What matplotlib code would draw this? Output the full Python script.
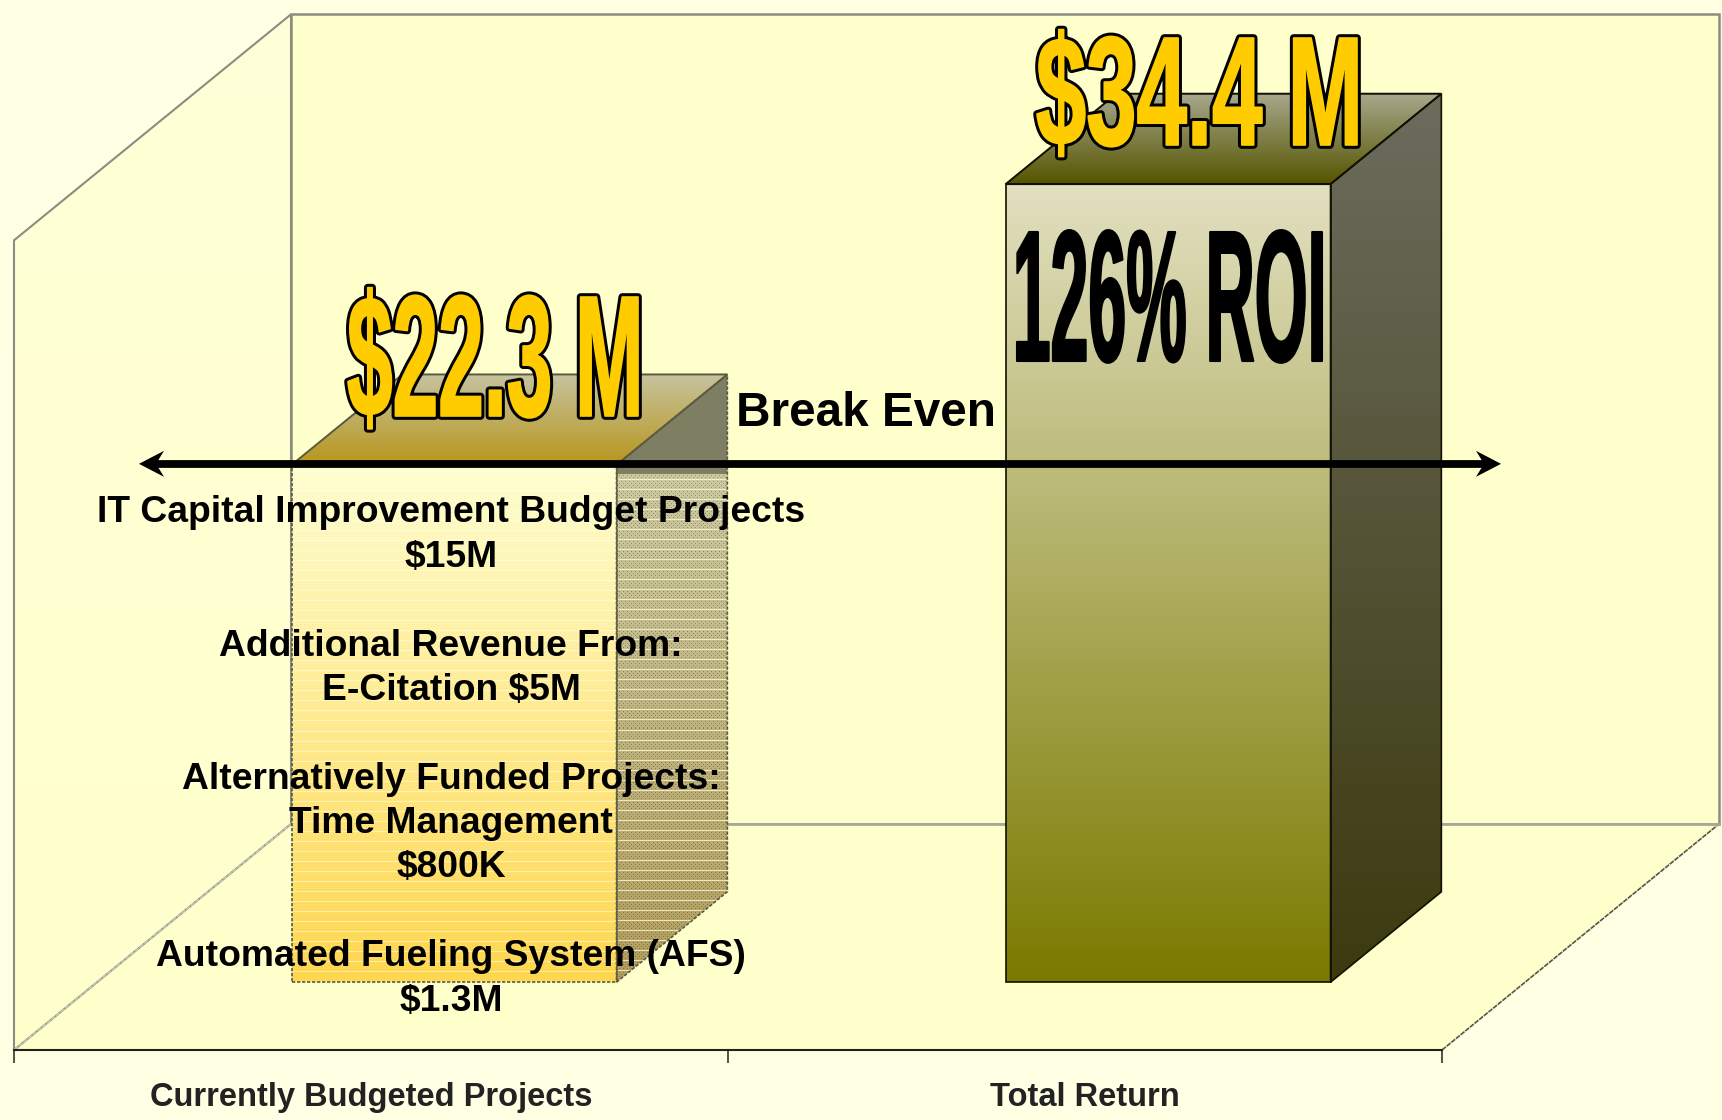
import numpy as np
import matplotlib
matplotlib.use('Agg')
import matplotlib.pyplot as plt
from matplotlib.colors import LinearSegmentedColormap, to_rgb
from matplotlib.font_manager import FontProperties
from matplotlib.patches import Polygon
from matplotlib.patheffects import AbstractPathEffect
from matplotlib.textpath import TextPath
from matplotlib.transforms import Affine2D

plt.rcParams['font.family'] = ['Liberation Sans', 'DejaVu Sans']

categories = ['Currently Budgeted Projects', 'Total Return']
values = [22.3, 34.4]          # $M
wall_top = 34.9
value_labels = ['$22.3 M', '$34.4 M']
roi_label = '126% ROI'
break_even_label = 'Break Even'
budget_lines = [
    'IT Capital Improvement Budget Projects', '$15M', '',
    'Additional Revenue From:', 'E-Citation $5M', '',
    'Alternatively Funded Projects:', 'Time Management', '$800K', '',
    'Automated Fueling System (AFS)', '$1.3M',
]

W, H = 1722, 1120
PX_X = 714.0    # px per category
PX_Y = 23.2     # px per $M
LEFT, BASE = 14, 1050
DEPTH_X = 277 / PX_X
DEPTH_Y = 226 / PX_Y
BAR_W = 0.455
D0, D1 = 0.30, 0.70   # bar front/back depth


class Squeeze(AbstractPathEffect):
    # scale the glyphs about the text anchor, with an outline of lw points
    def __init__(self, anchor, sx, sy, edge=None, lw=0):
        super().__init__()
        self.anchor, self.sx, self.sy = anchor, sx, sy
        self.edge, self.lw = edge, lw

    def draw_path(self, renderer, gc, tpath, affine, rgbFace=None):
        x0, y0 = self.anchor
        aff = affine + Affine2D().translate(-x0, -y0).scale(self.sx, self.sy).translate(x0, y0)
        gc0 = renderer.new_gc()
        gc0.copy_properties(gc)
        gc0.set_foreground(self.edge if self.edge is not None else rgbFace)
        gc0.set_linewidth(self.lw)
        gc0.set_joinstyle('round')
        renderer.draw_path(gc0, tpath, aff, rgbFace)
        gc0.restore()


def proj(cat, val, depth):
    return cat + depth * DEPTH_X, val + depth * DEPTH_Y


def quad(corners, **kw):
    pts = [proj(*c) for c in corners]
    p = Polygon(pts, closed=True, clip_on=False, **kw)
    ax.add_patch(p)
    return p


def grad_fill(patch, ylo, yhi, colors, xlo, xhi, z, pattern=None):
    # vertical gradient clipped to a polygon; colors run bottom -> top
    n = max(int(round((yhi - ylo) * PX_Y)), 2)
    ncol = max(int(round((xhi - xlo) * PX_X)), 2)
    cmap = LinearSegmentedColormap.from_list('g', colors)
    rgb = cmap(np.linspace(1, 0, n))[:, :3][:, None, :]
    rgb = np.repeat(rgb, ncol, axis=1)
    if pattern is not None:
        rgb = pattern(rgb)
    im = ax.imshow(rgb, extent=[xlo, xhi, ylo, yhi], aspect='auto', zorder=z,
                   interpolation='nearest')
    im.set_clip_path(patch)
    im.set_clip_box(fig.bbox)
    return im


def pattern_fill(rgb, dark, light_mix):
    # the picture's pattern fill: small dots plus a pale line every 10 px
    out = rgb.copy()
    i, j = np.indices(out.shape[:2])
    out[((i % 4 == 0) & (j % 4 == 0)) | ((i % 4 == 2) & (j % 4 == 2))] *= dark
    band = (i % 10) == 6
    out[band] = out[band] * (1 - light_mix) + np.array(to_rgb('#FFFFE0')) * light_mix
    return out


def side_dots(rgb):
    return pattern_fill(rgb, 0.72, 0.75)


def front_dots(rgb):
    return pattern_fill(rgb, 0.96, 0.55)


fig = plt.figure(figsize=(W / 100, H / 100), dpi=100, facecolor='#FFFFE4')
ax = fig.add_axes([LEFT / W, (H - BASE) / H, (1442 - LEFT) / W, (BASE - 14) / H])
ax.patch.set_visible(False)
xlim, ylim = (0, 2), (0, (BASE - 14) / PX_Y)

# walls + floor
grey = '#8C8C80'
left_wall = quad([(0, 0, 0), (0, 0, 1), (0, wall_top, 1), (0, wall_top, 0)],
                 fc='none', ec=grey, lw=1.5, zorder=2)
grad_fill(left_wall, 0, 45, ['#FFFFCC', '#FFFFD8'], 0, DEPTH_X, 1)
back_wall = quad([(0, 0, 1), (2, 0, 1), (2, wall_top, 1), (0, wall_top, 1)],
                 fc='#FFFFCC', ec=grey, lw=1.8, zorder=1.5)
floor = quad([(0, 0, 0), (2, 0, 0), (2, 0, 1), (0, 0, 1)],
             fc='#FFFFCC', ec='none', zorder=1.6)
ax.plot(*zip(proj(2, 0, 0), proj(2, 0, 1)), color='#555548', lw=1.2, zorder=2,
        clip_on=False, ls=(0, (3, 0.6)))
ax.plot(*zip(proj(0, 0, 0), proj(0, 0, 1)), color='#C8C8B0', lw=1.2, zorder=2,
        clip_on=False, ls=(0, (3, 0.6)))
ax.plot(*zip(proj(0, 0, 1), proj(2, 0, 1)), color='#A8A898', lw=2, zorder=2,
        clip_on=False)

edge_cols = ['#5A5A40', '#111100']
top_cols = [['#B8961C', '#C6C39F'], ['#555500', '#A8A88E']]
side_cols = [['#B29E5C', '#CDCAA0'], ['#3C3A0E', '#6C6C5E']]
front_cols = [['#FFD850', '#FFFFD2'], ['#7A7A00', '#E2E0C0']]

for k, v in enumerate(values):
    c0 = k + 0.5 - BAR_W / 2
    c1 = k + 0.5 + BAR_W / 2
    ec = edge_cols[k]
    # top face
    top = quad([(c0, v, D0), (c1, v, D0), (c1, v, D1), (c0, v, D1)],
               fc='none', ec=ec, lw=1.4, zorder=4)
    ylo, yhi = proj(0, v, D0)[1], proj(0, v, D1)[1]
    grad_fill(top, ylo, yhi, top_cols[k], c0, c1 + 0.5, 3)
    # side face
    side = quad([(c1, 0, D0), (c1, 0, D1), (c1, v, D1), (c1, v, D0)],
                fc='none', ec=ec, lw=1.2, zorder=4, ls='-' if k else (0, (2, 1)))
    ylo, yhi = proj(0, 0, D0)[1], proj(0, v, D1)[1]
    xa, xb = proj(c1, 0, D0)[0], proj(c1, 0, D1)[0]
    if k == 0:
        split = proj(0, v, D0)[1] - 0.4
        grad_fill(side, ylo, split, side_cols[k], xa, xb, 3, side_dots)
        grad_fill(side, split, yhi, ['#7E7E62', '#7E7E62'], xa, xb, 3.1)
    else:
        grad_fill(side, ylo, yhi, side_cols[k], xa, xb, 3)
    # front face
    front = quad([(c0, 0, D0), (c1, 0, D0), (c1, v, D0), (c0, v, D0)],
                 fc='none', ec=ec, lw=1.2, zorder=4,
                 ls='-' if k else (0, (2, 1)))
    ylo, yhi = proj(0, 0, D0)[1], proj(0, v, D0)[1]
    xa, xb = proj(c0, 0, D0)[0], proj(c1, 0, D0)[0]
    grad_fill(front, ylo, yhi, front_cols[k], xa, xb, 3.2, front_dots if k == 0 else None)

ax.set_xlim(xlim)
ax.set_ylim(ylim)
for s in ['top', 'left', 'right']:
    ax.spines[s].set_visible(False)
ax.spines['bottom'].set_linewidth(1.5)
ax.spines['bottom'].set_color('#222218')
ax.set_yticks([])
ax.set_xticks([0, 1, 2])
ax.set_xticklabels([])
ax.set_xticks([0.5, 1.5], minor=True)
ax.set_xticklabels(categories, minor=True, fontsize=23.5, color='#222222', fontweight='bold')
ax.tick_params(axis='x', which='major', length=9.5, width=1.2, color='#333328')
ax.tick_params(axis='x', which='minor', length=0, pad=23)

# everything below is placed in figure pixels, y down
px = Affine2D().scale(1, -1).translate(0, H)

# break even line sits on the front edge of the first bar
be_y = BASE - PX_Y * (values[0] + D0 * DEPTH_Y) - 1
TIP_L, TIP_R = 139, 1501
ax.plot([TIP_L + 15, TIP_R - 15], [be_y, be_y], transform=px, color='black', lw=5.6,
        solid_capstyle='butt', zorder=6, clip_on=False)
for tip, sgn in [(TIP_L, 1), (TIP_R, -1)]:
    # stealth head, 25 px long, 26 px wide
    ax.add_patch(Polygon([(tip, be_y), (tip + sgn * 25, be_y - 13), (tip + sgn * 17, be_y),
                          (tip + sgn * 25, be_y + 13)], closed=True, transform=px,
                         fc='black', ec='none', zorder=6, clip_on=False))

ax.text(866, 414, break_even_label, transform=px, fontsize=34.4, fontweight='bold',
        ha='center', va='center', zorder=7, clip_on=False)
ax.text(451, 757, '\n'.join(budget_lines), transform=px, fontsize=26.8, fontweight='bold',
        ha='center', va='center', linespacing=1.348, zorder=7, parse_math=False)


def wordart(s, x0, x1, y0, y1, face, edge, lw_out, lw_fat):
    # s stretched so that its glyphs fill x0..x1 / y0..y1 (pixels, y down)
    fp = FontProperties(family='Liberation Sans', weight='bold')
    size = 60 * 100 / 72
    bb = TextPath((0, 0), s, size=size, prop=fp).get_extents()
    cap = TextPath((0, 0), 'M', size=size, prop=fp).get_extents().height
    sx = (x1 - x0) / bb.width
    sy = (y1 - y0) / cap
    t = ax.text(x0 - bb.x0, y1, s, transform=px, fontsize=60, fontweight='bold', ha='left',
                va='baseline', zorder=8, clip_on=False, parse_math=False, color=face)
    anchor = (x0, H - y1)
    fx = []
    if edge is not None:
        fx.append(Squeeze(anchor, sx, sy, edge=edge, lw=lw_out))
    fx.append(Squeeze(anchor, sx, sy, edge=face, lw=lw_fat))
    t.set_path_effects(fx)
    return t


wordart(value_labels[0], 348, 638, 297, 416, '#FFCC00', 'black', 5.5, 1.2)
wordart(value_labels[1], 1037, 1357, 38, 145, '#FFCC00', 'black', 5.5, 1.2)
wordart(roi_label, 1017, 1322, 232, 361, 'black', None, 0, 1.5)

fig.savefig('out.png', dpi=100, facecolor=fig.get_facecolor())
